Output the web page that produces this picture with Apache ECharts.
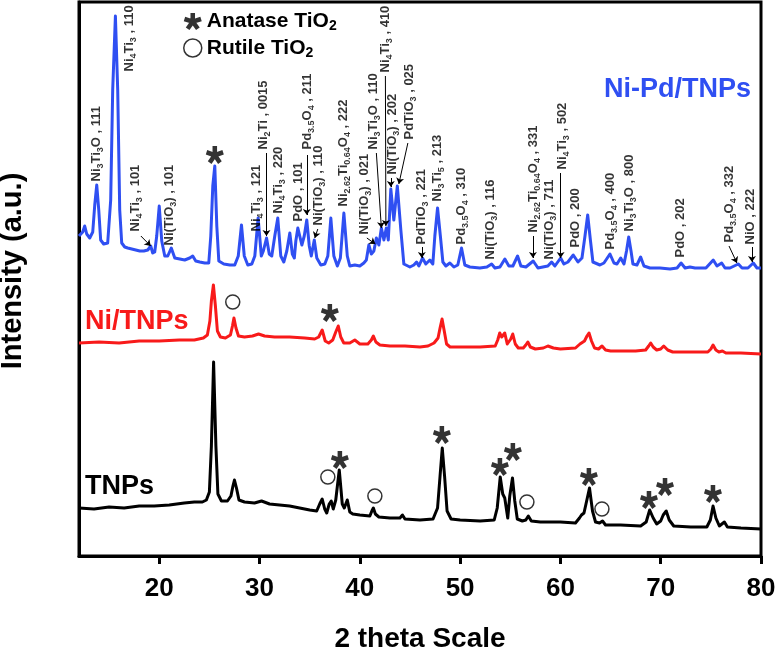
<!DOCTYPE html>
<html><head><meta charset="utf-8">
<script src="https://cdn.jsdelivr.net/npm/echarts@6/dist/echarts.min.js"></script>
<style>html,body{margin:0;padding:0;background:#fff}#c{width:776px;height:656px}</style>
</head><body><div id="c"></div>
<script>
const xTicks = [20, 30, 40, 50, 60, 70, 80];

const tnps = [[12.0,48],[13.5,47],[15,49],[16.5,48],[18,50],[19.5,50],[21,51],[22.5,53],[23.5,54],[24.3,54],[24.7,56],[25.0,64],[25.2,110],[25.42,194],[25.65,110],[25.85,62],[26.2,55],[26.8,55],[27.15,60],[27.35,70],[27.5,76],[27.7,68],[27.95,56],[28.5,54],[29.5,53],[30.2,55],[31,52],[32,51],[33,50],[34,48],[35,46],[35.7,45],[36.0,52],[36.25,57],[36.5,47],[36.7,43],[36.95,52],[37.15,55],[37.35,47],[37.6,56],[37.95,86],[38.25,52],[38.45,48],[38.75,56],[39.0,44],[39.3,42],[40,41],[41.0,40],[41.2,45],[41.35,48],[41.55,42],[41.9,39],[43,38],[44.0,38],[44.25,41],[44.5,37],[46,36],[47.3,37],[47.75,48],[48.0,80],[48.22,108],[48.45,80],[48.7,45],[49.1,37],[50,36],[52,35],[53.4,36],[53.7,48],[54.0,79],[54.25,62],[54.45,58],[54.55,57],[54.75,38],[54.95,60],[55.22,78],[55.45,55],[55.7,37],[56.2,35],[56.55,36],[56.8,40],[57.1,35],[58,34],[60,34],[61.5,33],[61.9,38],[62.1,41],[62.35,43],[62.55,52],[62.9,68],[63.2,45],[63.5,34],[63.9,33],[64.2,35],[64.5,31],[66,31],[68,30],[68.55,34],[68.9,46],[69.25,38],[69.6,32],[70.0,35],[70.25,41],[70.55,45],[70.85,36],[71.3,30],[73,29],[74.6,29],[74.95,36],[75.22,50],[75.5,38],[75.85,30],[76.1,32],[76.35,34],[76.65,29],[78,28],[80,27]];

const niTnps = [[12,213],[14,214],[16,213],[18,215],[20,215],[22,216],[23.5,216],[24.4,218],[24.8,221],[25.05,235],[25.2,255],[25.4,271],[25.6,250],[25.8,225],[26.1,219],[26.6,218],[27.1,221],[27.3,230],[27.45,238],[27.65,228],[27.9,220],[28.5,219],[29.3,220],[29.9,222],[30.5,220],[31.5,219],[33,219],[34.5,218],[35.5,217],[35.9,219],[36.25,226],[36.55,215],[36.9,213],[37.3,216],[37.6,224],[37.85,230],[38.1,219],[38.4,213],[39.0,213],[39.5,216],[40.0,212],[40.8,212],[41.15,216],[41.35,220],[41.6,214],[42.0,211],[43,210],[44.5,210],[46,209],[46.8,210],[47.4,213],[47.8,218],[48.0,228],[48.2,237],[48.4,226],[48.65,212],[49.0,209],[50,209],[52,209],[53.5,210],[53.75,216],[53.95,223],[54.15,219],[54.25,219],[54.45,223],[54.7,212],[54.85,210],[55.05,217],[55.25,222],[55.5,212],[55.8,208],[56.3,208],[56.55,211],[56.75,214],[57.0,209],[57.5,207],[58.3,208],[58.75,210],[59.3,208],[60,207],[61.5,208],[61.95,212],[62.4,215],[62.65,220],[62.85,223],[63.1,215],[63.4,208],[63.8,207],[64.15,210],[64.5,206],[65,205],[66,205],[67.5,205],[68.5,206],[68.8,210],[69.0,213],[69.25,209],[69.6,206],[70.0,207],[70.3,210],[70.45,211],[70.7,206],[71.2,204],[72,204],[73.5,204],[74.7,204],[75.0,207],[75.22,211],[75.5,206],[75.8,204],[76.15,205],[76.5,203],[78,203],[80,202]];

const niPdTnps = [[12.00,320],[12.37,324],[12.57,330],[12.77,322],[13.07,318],[13.37,324],[13.57,351],[13.77,371],[13.97,346],[14.16,316],[14.46,312],[14.86,313],[15.16,356],[15.36,466],[15.63,540],[15.86,466],[16.06,346],[16.26,313],[16.56,309],[16.86,308],[17.26,307],[17.66,306],[18.06,305],[18.46,305],[18.86,306],[19.15,310],[19.35,303],[19.55,304],[19.75,320],[20.00,350],[20.25,315],[20.55,300],[20.85,300],[21.20,308],[21.55,298],[22.05,297],[22.54,296],[23.04,298],[23.34,300],[23.64,295],[24.04,294],[24.54,293],[24.94,293],[25.14,320],[25.34,370],[25.54,390],[25.74,330],[25.94,295],[26.44,292],[27.04,291],[27.53,291],[27.88,300],[28.20,331],[28.48,300],[28.83,291],[29.23,292],[29.53,300],[29.86,338],[30.18,300],[30.38,305],[30.70,318],[30.97,302],[31.22,300],[31.52,320],[31.82,338],[32.12,300],[32.42,294],[32.72,305],[33.02,323],[33.27,302],[33.47,298],[33.62,315],[33.82,328],[34.01,320],[34.22,311],[34.46,320],[34.71,336],[34.96,310],[35.16,300],[35.46,316],[35.71,298],[36.11,291],[36.51,292],[36.81,300],[37.11,338],[37.41,300],[37.76,290],[38.06,298],[38.41,343],[38.75,300],[39.00,290],[39.50,291],[40.00,290],[40.40,293],[40.65,296],[40.90,311],[41.15,302],[41.40,305],[41.65,318],[41.90,311],[42.15,328],[42.40,316],[42.64,328],[42.84,316],[43.09,367],[43.39,336],[43.74,370],[44.09,326],[44.39,292],[44.99,289],[45.39,291],[45.66,294],[45.89,290],[46.25,298],[46.58,292],[46.98,296],[47.28,292],[47.48,320],[47.75,348],[48.03,320],[48.28,294],[48.58,290],[48.98,293],[49.38,289],[49.77,291],[50.14,308],[50.47,291],[50.97,289],[51.97,288],[52.67,289],[53.14,292],[53.47,288],[53.97,289],[54.46,297],[54.86,290],[55.26,290],[55.73,300],[56.06,290],[56.56,289],[57.29,295],[57.76,288],[58.25,289],[58.75,290],[59.12,294],[59.45,290],[60.02,298],[60.35,292],[60.75,294],[61.28,301],[61.75,294],[62.15,298],[62.45,320],[62.72,341],[63.00,315],[63.24,294],[63.94,291],[64.34,293],[64.94,302],[65.34,293],[65.64,292],[66.01,298],[66.34,292],[66.59,305],[66.81,319],[67.04,305],[67.23,292],[67.63,291],[68.00,299],[68.33,290],[68.93,288],[69.93,288],[70.93,287],[71.63,288],[72.03,293],[72.43,288],[72.92,289],[73.42,288],[73.92,288],[74.51,288],[75.24,296],[75.61,290],[76.08,293],[76.41,288],[76.91,288],[77.74,292],[78.11,288],[78.70,288],[79.23,293],[79.60,288],[80.00,288]];

// peak assignment labels: [2theta, intensity at text start, text]  (_n = subscript)
const peakLabels = [
  [13.77, 374, 'Ni_3Ti_3O , 111'],
  [17.07, 484, 'Ni_4Ti_3 , 110'],
  [17.66, 324, 'Ni_4Ti_3 , 101'],
  [21.05, 310, 'Ni(TiO_3) , 101'],
  [29.73, 324, 'Ni_4Ti_3 , 121'],
  [30.42, 406, 'Ni_2Ti , 0015'],
  [31.92, 342, 'Ni_4Ti_3 , 220'],
  [33.92, 334, 'PdO , 101'],
  [34.81, 406, 'Pd_3.5O_4 , 211'],
  [35.91, 330, 'Ni(TiO_3) , 110'],
  [38.41, 349, 'Ni_2.62Ti_0.64O_4 , 222'],
  [40.50, 321, 'Ni(TiO_3) , 021'],
  [41.40, 406, 'Ni_3Ti_3O , 110'],
  [42.60, 483, 'Ni_4Ti_3 , 410'],
  [43.29, 381, 'Ni(TiO_3) , 202'],
  [44.99, 416, 'PdTiO_3 , 025'],
  [46.18, 311, 'PdTiO_3 , 221'],
  [47.78, 354, 'Ni_3Ti_5 , 213'],
  [50.18, 311, 'Pd_3.5O_4 , 310'],
  [53.07, 296, 'Ni(TiO_3) , 116'],
  [57.36, 323, 'Ni_2.62Ti_0.64O_4 , 331'],
  [58.95, 296, 'Ni(TiO_3) , 711'],
  [60.25, 386, 'Ni_4Ti_3 , 502'],
  [61.55, 308, 'PdO , 200'],
  [65.04, 306, 'Pd_3.5O_4 , 400'],
  [66.93, 324, 'Ni_3Ti_3O , 800'],
  [72.01, 298, 'PdO , 202'],
  [76.90, 313, 'Pd_3.5O_4 , 332'],
  [79.00, 311, 'NiO , 222']
];

// pointer arrows: [x1, y1, x2, y2]
const arrows = [
  [18.17, 320, 19.15, 310],
  [30.69, 403, 30.69, 320],
  [34.71, 401, 34.71, 341],
  [35.81, 327, 35.51, 318],
  [40.70, 318, 41.55, 312],
  [41.65, 403, 42.15, 328],
  [42.55, 480, 42.60, 330],
  [43.09, 378, 43.09, 369],
  [44.79, 413, 43.89, 372],
  [46.18, 309, 46.18, 298],
  [57.26, 320, 57.26, 298],
  [60.02, 383, 60.02, 298],
  [76.81, 310, 77.60, 293],
  [79.10, 309, 79.10, 294]
];

const anataseMarks = [[25.54,401],[37.01,243],[38.01,96],[48.18,121],[53.97,89],[55.26,104],[62.84,79],[68.83,56],[70.43,69],[75.21,62]];
const rutileMarks = [[27.33,254],[36.81,79],[41.50,60],[56.66,54],[64.14,47]];

const FONT = '"Liberation Sans", Arial, Helvetica, sans-serif';
const BLUE = '#2f4ff2', RED = '#f81a1a', BLACK = '#000000';
const STAR = 'path://M-0.26 0L-0.26 -1L0.26 -1L0.26 0ZM-0.08 -0.247L0.871 -0.556L1.032 -0.062L0.08 0.247ZM0.21 -0.153L0.798 0.656L0.378 0.962L-0.21 0.153ZM0.21 0.153L-0.378 0.962L-0.798 0.656L-0.21 -0.153ZM-0.08 0.247L-1.032 -0.062L-0.871 -0.556L0.08 -0.247Z';

function toRich(s) {
  return '{n|' + s.replace(/_([0-9.]+)/g, '}{s|$1}{n|') + '}';
}

const chart = echarts.init(document.getElementById('c'), null, {renderer: 'canvas'});
chart.setOption({
  animation: false,
  backgroundColor: '#ffffff',
  textStyle: {fontFamily: FONT},
  grid: {left: 79, right: 15, top: 2, bottom: 100, containLabel: false, outerBoundsMode: 'none', show: true, borderColor: '#000', borderWidth: 3, backgroundColor: 'transparent'},
  xAxis: {
    type: 'value', min: 12, max: 80,
    axisLine: {show: true, lineStyle: {color: '#000', width: 3}},
    axisTick: {show: true, inside: false, length: 8, lineStyle: {color: '#000', width: 3}, customValues: xTicks},
    axisLabel: {show: true, customValues: xTicks, fontSize: 26, fontWeight: 'bold', color: '#000', margin: 20, fontFamily: FONT},
    splitLine: {show: false},
    name: '2 theta Scale', nameLocation: 'middle', nameGap: 69,
    nameTextStyle: {fontSize: 28, fontWeight: 'bold', color: '#000', fontFamily: FONT}
  },
  yAxis: {
    type: 'value', min: 0, max: 554,
    axisLine: {show: true, lineStyle: {color: '#000', width: 3}},
    axisTick: {show: false}, axisLabel: {show: false}, splitLine: {show: false},
    name: 'Intensity (a.u.)', nameLocation: 'middle', nameGap: 52,
    nameTextStyle: {fontSize: 29, fontWeight: 'bold', color: '#000', fontFamily: FONT, padding: [0, 0, 0, 16]}
  },
  legend: {
    orient: 'vertical', left: 178, top: 6, itemWidth: 18, itemHeight: 18, itemGap: 4, itemTextGap: 7,
    selectedMode: false,
    data: [
      {name: 'Anatase TiO2', icon: STAR, itemStyle: {color: '#000'}},
      {name: 'Rutile TiO2', icon: 'circle', itemStyle: {color: 'rgba(0,0,0,0)', borderColor: '#000', borderWidth: 1.5}}
    ],
    formatter: function (name) { return name === 'Anatase TiO2' ? '{t|Anatase TiO}{s|2}' : '{t|Rutile TiO}{s|2}'; },
    textStyle: {
      rich: {
        t: {fontSize: 21, fontWeight: 'bold', color: '#000', fontFamily: FONT, verticalAlign: 'middle'},
        s: {fontSize: 14, fontWeight: 'bold', color: '#000', fontFamily: FONT, padding: [10, 0, 0, 0], verticalAlign: 'middle'}
      }
    }
  },
  graphic: [
    {type: 'text', style: {x: 604, y: 90, text: 'Ni-Pd/TNPs', fill: BLUE, font: 'bold 27px ' + FONT, verticalAlign: 'middle'}},
    {type: 'text', style: {x: 85, y: 322, text: 'Ni/TNPs', fill: RED, font: 'bold 27px ' + FONT, verticalAlign: 'middle'}},
    {type: 'text', style: {x: 85, y: 487, text: 'TNPs', fill: BLACK, font: 'bold 27px ' + FONT, verticalAlign: 'middle'}}
  ],
  series: [
    {type: 'line', name: 'TNPs', data: tnps, showSymbol: false, symbol: 'none', lineStyle: {color: BLACK, width: 3, join: 'round'}, z: 2},
    {type: 'line', name: 'Ni/TNPs', data: niTnps, showSymbol: false, symbol: 'none', lineStyle: {color: RED, width: 3, join: 'round'}, z: 2},
    {type: 'line', name: 'Ni-Pd/TNPs', data: niPdTnps, showSymbol: false, symbol: 'none', lineStyle: {color: BLUE, width: 3, join: 'round'}, z: 2},
    {type: 'scatter', name: 'Anatase TiO2', data: anataseMarks, symbol: STAR, symbolSize: 18, itemStyle: {color: '#000'}, z: 5},
    {type: 'scatter', name: 'Rutile TiO2', data: rutileMarks, symbol: 'circle', symbolSize: 14, itemStyle: {color: 'rgba(0,0,0,0)', borderColor: '#000', borderWidth: 1.5}, z: 5},
    {
      type: 'scatter', name: 'labels', z: 6, symbolSize: 1, itemStyle: {color: 'rgba(0,0,0,0)'},
      data: peakLabels.map(function (p) { return {value: [p[0], p[1]], name: p[2]}; }),
      label: {
        show: true, position: [0, 0], rotate: 90, align: 'left', verticalAlign: 'middle',
        formatter: function (p) { return toRich(p.name); },
        rich: {
          n: {fontSize: 13, fontWeight: 'bold', color: '#000', fontFamily: FONT, lineHeight: 15, verticalAlign: 'middle'},
          s: {fontSize: 9, fontWeight: 'bold', color: '#000', fontFamily: FONT, lineHeight: 9, padding: [8, 0, 0, 0], verticalAlign: 'middle'}
        }
      }
    },
    {
      type: 'lines', coordinateSystem: 'cartesian2d', z: 6, symbol: ['none', 'arrow'], symbolSize: 6,
      lineStyle: {color: '#000', width: 1, opacity: 1},
      data: arrows.map(function (a) { return {coords: [[a[0], a[1]], [a[2], a[3]]]}; })
    }
  ]
});
</script>
</body></html>
